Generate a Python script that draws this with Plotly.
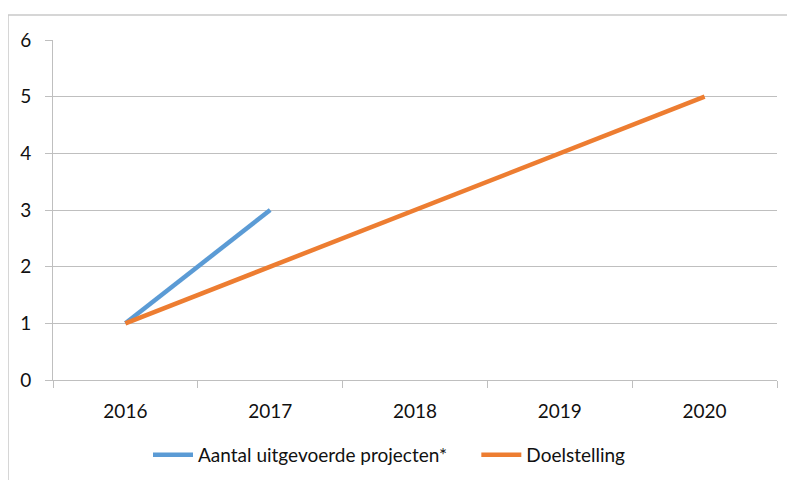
import plotly.graph_objects as go

years = ["2016", "2017", "2018", "2019", "2020"]
projecten = [1, 3]
doelstelling = [1, 2, 3, 4, 5]
y_ticks = [0, 1, 2, 3, 4, 5, 6]

# page body has an 8px margin; compensate
OFF = 8
W, H = 795 - OFF, 480 - OFF
L, R, T = 53 - OFF, 18, 40 - OFF
pw = W - L - R
ph = 340
B = H - T - ph

def px_x(x):
    return (x - OFF - L) / pw

def px_y(y):
    return (T + ph - (y - OFF)) / ph

fig = go.Figure()
fig.add_trace(go.Scatter(x=years[:len(projecten)], y=projecten, mode="lines",
                         name="Aantal uitgevoerde projecten*" + "\u00a0" * 5,
                         line=dict(color="#5B9BD5", width=4.5)))
fig.add_trace(go.Scatter(x=years, y=doelstelling, mode="lines",
                         name="Doelstelling",
                         line=dict(color="#ED7D31", width=4.5)))

grid = "#bfbfbf"
fig.update_layout(
    width=W, height=H,
    margin=dict(l=L, r=R, t=T, b=B, autoexpand=False),
    paper_bgcolor="white", plot_bgcolor="white",
    font=dict(family="Lato, Open Sans, sans-serif", size=19, color="#111111"),
    showlegend=True,
    legend=dict(orientation="h", xref="container", yref="container",
                x=(148 - OFF) / W, xanchor="left",
                y=1 - (455 - OFF) / H, yanchor="middle",
                font=dict(size=19), itemwidth=40, tracegroupgap=0),
    xaxis=dict(type="category", categoryorder="array", categoryarray=years,
               range=[-0.5, 4.5], tickson="boundaries", ticks="outside",
               ticklen=7, tickcolor=grid, showline=True, linecolor=grid,
               linewidth=1, showgrid=False, zeroline=False,
               tickfont=dict(size=19), ticklabelstandoff=14),
    yaxis=dict(range=[0, 6], tickvals=y_ticks, ticks="outside", ticklen=7,
               tickcolor=grid, showline=True, linecolor=grid, linewidth=1,
               showgrid=True, gridcolor=grid, gridwidth=1, zeroline=False,
               tickfont=dict(size=19), ticklabelstandoff=10),
)

# outer chart border (left and top edges)
x0 = px_x(8)
y0 = px_y(15)
fig.add_shape(type="line", xref="paper", yref="paper", x0=x0, x1=x0,
              y0=y0, y1=px_y(480), line=dict(color="#c8c8c8", width=1.5))
fig.add_shape(type="line", xref="paper", yref="paper", x0=x0, x1=px_x(800),
              y0=y0, y1=y0, line=dict(color="#c8c8c8", width=1.5))

fig.write_html("out.html")
